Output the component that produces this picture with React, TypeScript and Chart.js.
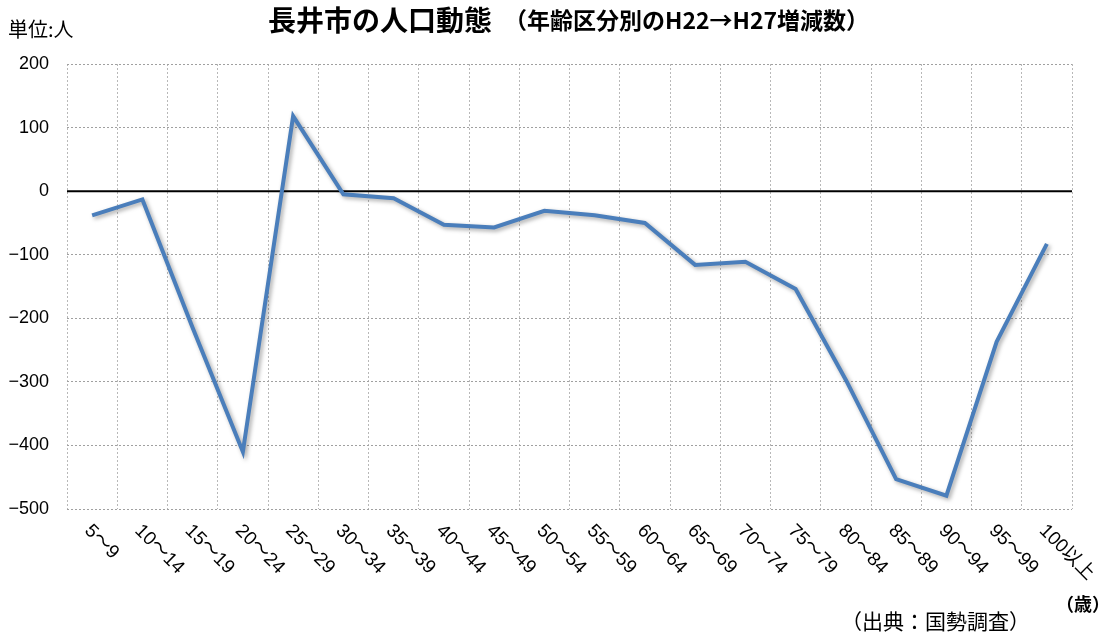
import React, { useEffect, useRef } from "react";
import { Chart, registerables } from "chart.js";

Chart.register(...registerables);

const ageGroups: string[] = [
  "5〜9", "10〜14", "15〜19", "20〜24", "25〜29", "30〜34", "35〜39", "40〜44",
  "45〜49", "50〜54", "55〜59", "60〜64", "65〜69", "70〜74", "75〜79", "80〜84",
  "85〜89", "90〜94", "95〜99", "100以上",
];

const changeValues: number[] = [
  -38, -13, -215, -410, 118, -5, -11, -53, -57, -31, -38, -50, -116, -111, -154, -297,
  -453, -479, -237, -83,
];

const yTicks: number[] = [200, 100, 0, -100, -200, -300, -400, -500];

const titleMain = "長井市の人口動態";
const titleSub = "（年齢区分別のH22→H27増減数）";
const unitText = "単位:人";
const sourceText = "（出典：国勢調査）";
const ageUnitText = "（歳）";

const JP = '"Noto Sans CJK JP", "Liberation Sans", sans-serif';
const LAT = '"Liberation Sans", "Noto Sans CJK JP", sans-serif';

const decorPlugin = {
  id: "decor",
  beforeDatasetsDraw(chart: any) {
    const { ctx, chartArea } = chart;
    const y0 = chart.scales.y.getPixelForValue(0);
    ctx.save();
    ctx.strokeStyle = "#000";
    ctx.lineWidth = 2;
    ctx.beginPath();
    ctx.moveTo(chartArea.left, y0);
    ctx.lineTo(chartArea.right, y0);
    ctx.stroke();
    ctx.restore();
  },
  beforeDatasetDraw(chart: any) {
    const ctx = chart.ctx;
    ctx.save();
    ctx.shadowColor = "rgba(0,0,0,0.35)";
    ctx.shadowBlur = 4;
    ctx.shadowOffsetX = 2;
    ctx.shadowOffsetY = 2;
  },
  afterDatasetDraw(chart: any) {
    chart.ctx.restore();
  },
  afterDraw(chart: any) {
    const { ctx } = chart;
    const xs = chart.scales.x;
    ctx.save();
    ctx.fillStyle = "#000";
    // rotated category labels
    ctx.font = `19px ${LAT}`;
    ctx.textAlign = "left";
    ctx.textBaseline = "top";
    ageGroups.forEach((lab, i) => {
      const x = xs.getPixelForValue(i);
      ctx.save();
      ctx.translate(x + 2, 521);
      ctx.rotate(Math.PI / 4);
      ctx.fillText(lab, 0, 0);
      ctx.restore();
    });
    // title
    ctx.textBaseline = "alphabetic";
    ctx.font = `bold 28px ${JP}`;
    ctx.fillText(titleMain, 268, 31);
    const w = ctx.measureText(titleMain).width;
    ctx.font = `bold 23px ${JP}`;
    ctx.fillText(titleSub, 268 + w + 12, 29);
    // unit
    ctx.font = `20px ${JP}`;
    ctx.fillText(unitText, 8, 37);
    // source
    ctx.font = `21px ${JP}`;
    ctx.fillText(sourceText, 841, 629);
    ctx.font = `bold 18px ${JP}`;
    ctx.fillText(ageUnitText, 1056, 611);
    ctx.restore();
  },
};

export default function App() {
  const canvasRef = useRef<HTMLCanvasElement | null>(null);

  useEffect(() => {
    if (!canvasRef.current) return;
    const chart = new Chart(canvasRef.current, {
      type: "line",
      data: {
        labels: ageGroups,
        datasets: [
          {
            data: changeValues,
            borderColor: "#4A7EBB",
            borderWidth: 4,
            pointRadius: 0,
            tension: 0,
            fill: false,
          },
        ],
      },
      options: {
        responsive: false,
        animation: false,
        layout: { padding: { top: 64, left: 0, right: 40, bottom: 125 } },
        plugins: {
          legend: { display: false },
          title: { display: false },
          tooltip: { enabled: false },
        },
        scales: {
          x: {
            offset: true,
            grid: { offset: true, color: "#b8b8b8", lineWidth: 1, drawTicks: false },
            border: { display: false, dash: [2, 2] },
            ticks: { display: false },
          },
          y: {
            min: -500,
            max: 200,
            afterFit: (scale: any) => {
              scale.width = 67;
            },
            afterBuildTicks: (scale: any) => {
              scale.ticks = yTicks.slice().reverse().map((v) => ({ value: v }));
            },
            grid: { color: "#a0a0a0", lineWidth: 1, drawTicks: false },
            border: { display: false, dash: [2, 2] },
            ticks: {
              padding: 18,
              color: "#000",
              font: { family: '"Liberation Sans", sans-serif', size: 18 },
              callback: (v: any) => String(v).replace("-", "−"),
            },
          },
        },
      },
      plugins: [decorPlugin],
    });
    return () => chart.destroy();
  }, []);

  return (
    <div style={{ position: "fixed", left: 0, top: 0, width: 1112, height: 634, background: "#fff" }}>
      <canvas ref={canvasRef} width={1112} height={634} />
    </div>
  );
}
